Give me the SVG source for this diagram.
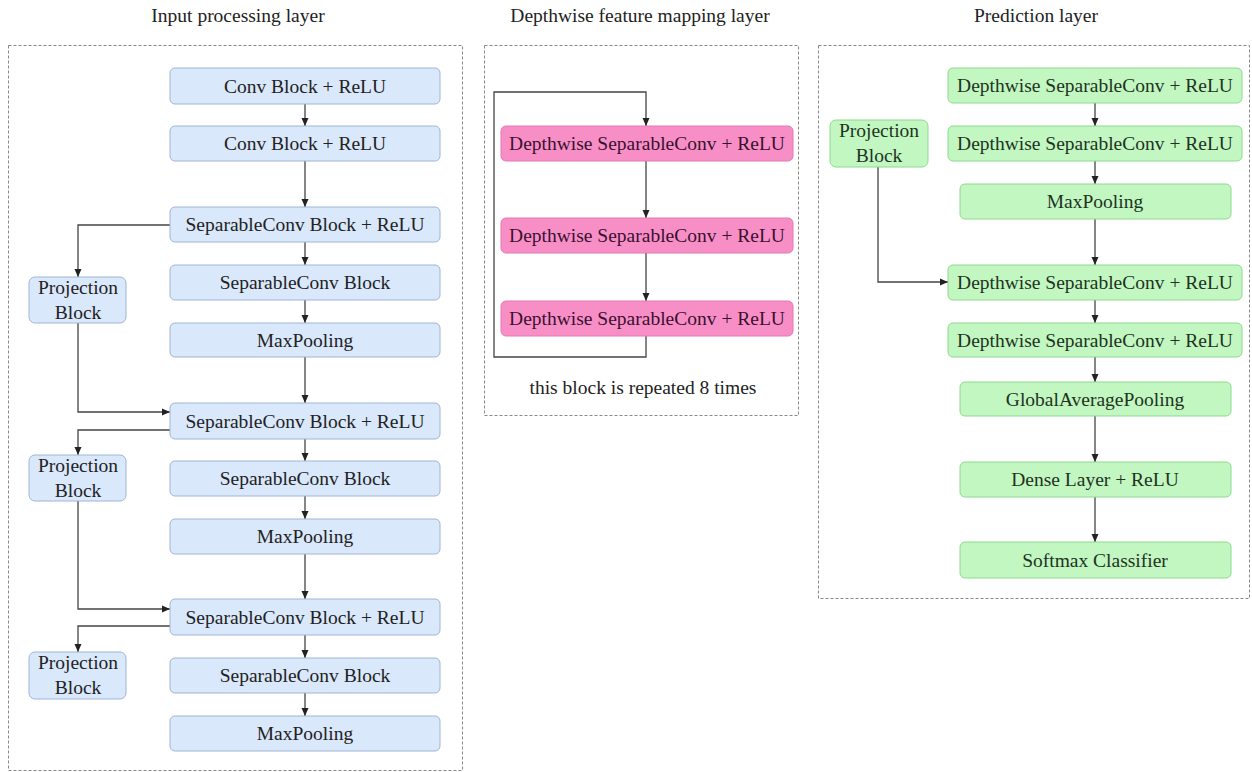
<svg xmlns="http://www.w3.org/2000/svg" width="1252" height="772" viewBox="0 0 1252 772">
<defs>
<marker id="arr" markerUnits="userSpaceOnUse" markerWidth="10" markerHeight="10" viewBox="0 0 10 10" refX="9" refY="5" orient="auto">
<path d="M1,1.5 L9,5 L1,8.5 Z" fill="#222"/>
</marker>
<style>
text{font-family:'Liberation Serif','DejaVu Serif',serif;font-size:19.5px;fill:#222;text-anchor:middle}
.panel{fill:none;stroke:#888;stroke-width:1;stroke-dasharray:3 2}
.blue{fill:#dae8fc;stroke:#9fb4d4;stroke-width:1}
.pink{fill:#f78fc6;stroke:#e479b0;stroke-width:1}
.green{fill:#c2f7c2;stroke:#8ed88e;stroke-width:1}
.pt{fill:#3a1030}
.gt{fill:#1e331e}
.c{fill:none;stroke:#444;stroke-width:1.3;marker-end:url(#arr)}
</style>
</defs>
<rect width="1252" height="772" fill="#fff"/>

<g id="titles" font-family="Liberation Serif, serif">
<text x="238" y="22">Input processing layer</text>
<text x="640" y="22">Depthwise feature mapping layer</text>
<text x="1036" y="22">Prediction layer</text>
</g>

<g id="panels">
<rect class="panel" x="8.5" y="45.5" width="454" height="725"/>
<rect class="panel" x="484.5" y="45.5" width="314" height="370"/>
<rect class="panel" x="818.5" y="45.5" width="431" height="553"/>
</g>

<g id="connectors">
<path class="c" d="M305,104 V126"/>
<path class="c" d="M305,161 V207"/>
<path class="c" d="M305,242 V265"/>
<path class="c" d="M305,300 V323"/>
<path class="c" d="M305,357 V403"/>
<path class="c" d="M305,439 V461"/>
<path class="c" d="M305,496 V519"/>
<path class="c" d="M305,554 V599"/>
<path class="c" d="M305,635 V658"/>
<path class="c" d="M305,693 V716"/>
<path class="c" d="M170,225 H78 V277"/>
<path class="c" d="M78,323 V412 H170"/>
<path class="c" d="M170,430 H78 V455"/>
<path class="c" d="M78,501 V609 H170"/>
<path class="c" d="M170,626 H78 V652"/>

<path class="c" d="M646,336 V357 H494 V92 H646 V126"/>
<path class="c" d="M646,161 V218"/>
<path class="c" d="M646,253 V301"/>

<path class="c" d="M1095,103 V126"/>
<path class="c" d="M1095,161 V184"/>
<path class="c" d="M1095,219 V265"/>
<path class="c" d="M1095,300 V323"/>
<path class="c" d="M1095,357 V382"/>
<path class="c" d="M1095,416 V462"/>
<path class="c" d="M1095,497 V542"/>
<path class="c" d="M878,167 V282 H948"/>
</g>

<g font-family="Liberation Serif, serif">
<g id="in1"><rect class="blue" x="170" y="68" width="270" height="36" rx="5"/><text x="305" y="93">Conv Block + ReLU</text></g>
<g id="in2"><rect class="blue" x="170" y="126" width="270" height="35" rx="5"/><text x="305" y="150">Conv Block + ReLU</text></g>
<g id="in3"><rect class="blue" x="170" y="207" width="270" height="35" rx="5"/><text x="305" y="231">SeparableConv Block + ReLU</text></g>
<g id="in4"><rect class="blue" x="170" y="265" width="270" height="35" rx="5"/><text x="305" y="289">SeparableConv Block</text></g>
<g id="in5"><rect class="blue" x="170" y="323" width="270" height="34" rx="5"/><text x="305" y="347">MaxPooling</text></g>
<g id="in6"><rect class="blue" x="170" y="403" width="270" height="36" rx="5"/><text x="305" y="428">SeparableConv Block + ReLU</text></g>
<g id="in7"><rect class="blue" x="170" y="461" width="270" height="35" rx="5"/><text x="305" y="485">SeparableConv Block</text></g>
<g id="in8"><rect class="blue" x="170" y="519" width="270" height="35" rx="5"/><text x="305" y="543">MaxPooling</text></g>
<g id="in9"><rect class="blue" x="170" y="599" width="270" height="36" rx="5"/><text x="305" y="624">SeparableConv Block + ReLU</text></g>
<g id="in10"><rect class="blue" x="170" y="658" width="270" height="35" rx="5"/><text x="305" y="682">SeparableConv Block</text></g>
<g id="in11"><rect class="blue" x="170" y="716" width="270" height="35" rx="5"/><text x="305" y="740">MaxPooling</text></g>

<g id="proj1"><rect class="blue" x="29" y="277" width="97" height="46" rx="6"/><text x="78" y="294">Projection</text><text x="78" y="319">Block</text></g>
<g id="proj2"><rect class="blue" x="29" y="455" width="97" height="46" rx="6"/><text x="78" y="472">Projection</text><text x="78" y="497">Block</text></g>
<g id="proj3"><rect class="blue" x="29" y="652" width="97" height="47" rx="6"/><text x="78" y="669">Projection</text><text x="78" y="694">Block</text></g>

<g id="dw1"><rect class="pink" x="501" y="126" width="292" height="35" rx="5"/><text class="pt" x="647" y="150">Depthwise SeparableConv + ReLU</text></g>
<g id="dw2"><rect class="pink" x="501" y="218" width="292" height="35" rx="5"/><text class="pt" x="647" y="242">Depthwise SeparableConv + ReLU</text></g>
<g id="dw3"><rect class="pink" x="501" y="301" width="292" height="35" rx="5"/><text class="pt" x="647" y="325">Depthwise SeparableConv + ReLU</text></g>
<g id="repeat-note"><text x="643" y="394">this block is repeated 8 times</text></g>

<g id="pr1"><rect class="green" x="948" y="68" width="294" height="35" rx="5"/><text class="gt" x="1095" y="92">Depthwise SeparableConv + ReLU</text></g>
<g id="pr2"><rect class="green" x="948" y="126" width="294" height="35" rx="5"/><text class="gt" x="1095" y="150">Depthwise SeparableConv + ReLU</text></g>
<g id="pr3"><rect class="green" x="960" y="184" width="271" height="35" rx="5"/><text class="gt" x="1095" y="208">MaxPooling</text></g>
<g id="pr4"><rect class="green" x="948" y="265" width="294" height="35" rx="5"/><text class="gt" x="1095" y="289">Depthwise SeparableConv + ReLU</text></g>
<g id="pr5"><rect class="green" x="948" y="323" width="294" height="34" rx="5"/><text class="gt" x="1095" y="347">Depthwise SeparableConv + ReLU</text></g>
<g id="pr6"><rect class="green" x="960" y="382" width="271" height="34" rx="5"/><text class="gt" x="1095" y="406">GlobalAveragePooling</text></g>
<g id="pr7"><rect class="green" x="960" y="462" width="271" height="35" rx="5"/><text class="gt" x="1095" y="486">Dense Layer + ReLU</text></g>
<g id="pr8"><rect class="green" x="960" y="542" width="271" height="36" rx="5"/><text class="gt" x="1095" y="567">Softmax Classifier</text></g>
<g id="prproj"><rect class="green" x="830" y="120" width="98" height="47" rx="6"/><text class="gt" x="879" y="137">Projection</text><text class="gt" x="879" y="162">Block</text></g>
</g>
</svg>
